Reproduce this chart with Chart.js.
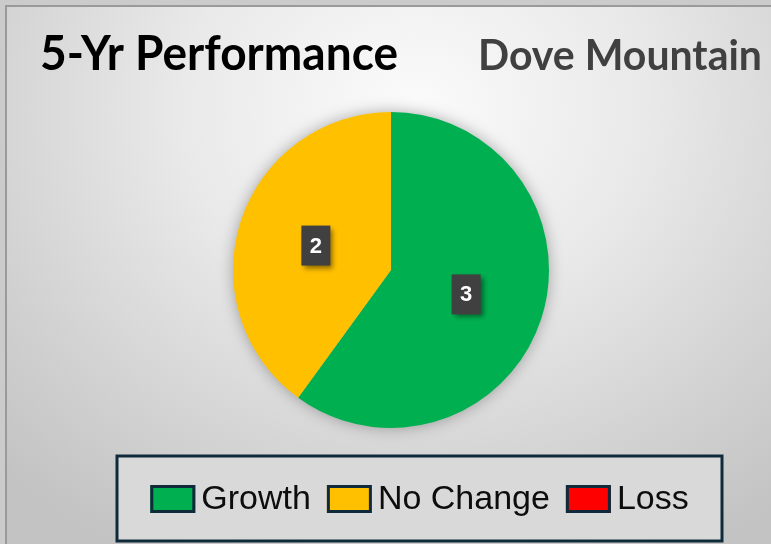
<!DOCTYPE html>
<html>
<head>
<meta charset="utf-8">
<title>5-Yr Performance - Dove Mountain</title>
<script src="https://cdn.jsdelivr.net/npm/chart.js@4/dist/chart.umd.min.js"></script>
<style>
  html, body {
    margin: 0;
    padding: 0;
    width: 771px;
    height: 544px;
    overflow: hidden;
    background: #cbcbcb;
  }
  #frame {
    position: absolute;
    left: 5px;
    top: 5px;
    width: 780px;
    height: 560px;
    border-left: 2px solid #9a9a9a;
    border-top: 2px solid #9a9a9a;
    background: radial-gradient(ellipse 75% 90% at 52% 18%, #fbfbfb 0%, #e9e9e9 40%, #d2d2d2 75%, #c3c3c3 100%);
  }
  #chart-wrap {
    position: absolute;
    left: 0;
    top: 0;
    width: 771px;
    height: 544px;
  }
</style>
</head>
<body>
<div id="frame"></div>
<div id="chart-wrap"><canvas id="perfChart" width="771" height="544"></canvas></div>
<script>
// Chart data
const categories = ['Growth', 'No Change', 'Loss'];
const counts = [3, 2, 0];
const sliceColors = ['#00B050', '#FFC000', '#FF0000'];
const chartTitle = '5-Yr Performance';
const areaName = 'Dove Mountain';

const NAVY = '#0f2a3b';

// Soft halo under the whole pie, drawn before the slices
const pieShadow = {
    id: 'pieShadow',
    beforeDatasetsDraw(chart) {
        const arc = chart.getDatasetMeta(0).data[0];
        if (!arc) return;
        const ctx = chart.ctx;
        ctx.save();
        ctx.shadowColor = 'rgba(0, 0, 0, 0.35)';
        ctx.shadowBlur = 16;
        ctx.fillStyle = '#bdbdbd';
        ctx.beginPath();
        ctx.arc(arc.x, arc.y, arc.outerRadius - 1, 0, Math.PI * 2);
        ctx.fill();
        ctx.restore();
    }
};

// Dark value boxes in the middle of each slice
const valueBoxes = {
    id: 'valueBoxes',
    afterDatasetsDraw(chart) {
        const ctx = chart.ctx;
        const meta = chart.getDatasetMeta(0);
        const values = chart.data.datasets[0].data;
        meta.data.forEach((arc, i) => {
            if (!values[i]) return;
            const pos = arc.tooltipPosition();
            const w = 29, h = 40;
            ctx.save();
            ctx.shadowColor = 'rgba(0, 0, 0, 0.45)';
            ctx.shadowBlur = 5;
            ctx.shadowOffsetX = 3;
            ctx.shadowOffsetY = 3;
            ctx.fillStyle = '#404040';
            ctx.fillRect(pos.x - w / 2, pos.y - h / 2, w, h);
            ctx.restore();

            ctx.save();
            ctx.fillStyle = '#ffffff';
            ctx.font = 'bold 22px "Liberation Sans", Arial, sans-serif';
            ctx.textAlign = 'center';
            ctx.textBaseline = 'middle';
            ctx.fillText(String(values[i]), pos.x, pos.y + 1);
            ctx.restore();
        });
    }
};

// Draws text squeezed to a fixed width, left-aligned at x
function fitText(ctx, text, x, y, width) {
    const natural = ctx.measureText(text).width;
    ctx.save();
    ctx.translate(x, y);
    ctx.scale(width / natural, 1);
    ctx.fillText(text, 0, 0);
    ctx.restore();
}

// Header texts
const headers = {
    id: 'headers',
    afterDraw(chart) {
        const ctx = chart.ctx;
        ctx.save();
        ctx.textBaseline = 'alphabetic';
        ctx.textAlign = 'left';
        ctx.font = 'bold 47px Lato, "Liberation Sans", sans-serif';
        ctx.fillStyle = '#000000';
        fitText(ctx, chartTitle, 40, 70, 358);
        ctx.font = 'bold 42px Lato, "Liberation Sans", sans-serif';
        ctx.fillStyle = '#404040';
        fitText(ctx, areaName, 478, 70, 284);
        ctx.restore();
    }
};

// Boxed legend along the bottom
const boxedLegend = {
    id: 'boxedLegend',
    afterDraw(chart) {
        const ctx = chart.ctx;
        const box = { left: 117, top: 456, right: 722, bottom: 541 };
        ctx.save();
        ctx.fillStyle = '#d9d9d9';
        ctx.fillRect(box.left, box.top, box.right - box.left, box.bottom - box.top);
        ctx.lineWidth = 3;
        ctx.strokeStyle = NAVY;
        ctx.strokeRect(box.left, box.top, box.right - box.left, box.bottom - box.top);

        ctx.font = '34px "Liberation Sans", Arial, sans-serif';
        ctx.textBaseline = 'middle';
        ctx.textAlign = 'left';
        const swW = 45, swH = 28, textGap = 6, itemGap = 16;
        const colors = chart.data.datasets[0].backgroundColor;
        const widths = chart.data.labels.map(l => ctx.measureText(l).width);
        const total = widths.reduce((a, w) => a + swW + textGap + w, 0) + itemGap * (widths.length - 1);
        let x = (box.left + box.right) / 2 - total / 2;
        const cy = (box.top + box.bottom) / 2 + 0.5;
        chart.data.labels.forEach((label, i) => {
            ctx.fillStyle = colors[i];
            ctx.fillRect(x, cy - swH / 2, swW, swH);
            ctx.strokeStyle = NAVY;
            ctx.lineWidth = 3;
            ctx.strokeRect(x + 1.5, cy - swH / 2 + 1.5, swW - 3, swH - 3);
            ctx.fillStyle = '#0d0d0d';
            ctx.fillText(label, x + swW + textGap, cy + 1);
            x += swW + textGap + widths[i] + itemGap;
        });
        ctx.restore();
    }
};

const ctx = document.getElementById('perfChart').getContext('2d');
new Chart(ctx, {
    type: 'pie',
    data: {
        labels: categories,
        datasets: [{
            data: counts,
            backgroundColor: sliceColors,
            borderWidth: 0,
            radius: 158
        }]
    },
    options: {
        responsive: false,
        animation: false,
        layout: {
            padding: { left: 11, top: 0, right: 0, bottom: 4 }
        },
        plugins: {
            legend: { display: false },
            title: { display: false },
            tooltip: { enabled: false }
        }
    },
    plugins: [pieShadow, valueBoxes, headers, boxedLegend]
});
</script>
</body>
</html>
